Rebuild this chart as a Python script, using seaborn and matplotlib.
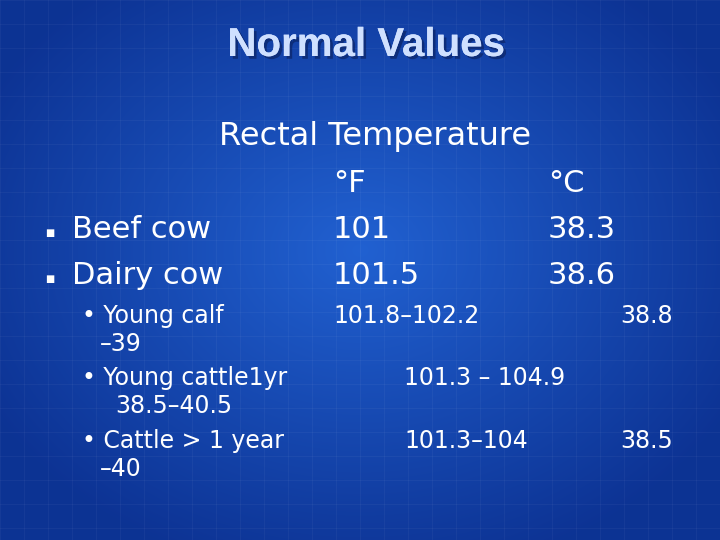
import numpy as np
import matplotlib.pyplot as plt
import matplotlib.patheffects as pe
import seaborn as sns

sns.set_style("white")
plt.rcParams['font.family'] = ['DejaVu Sans']

title = "Normal Values"
header = "Rectal Temperature"
units = ["°F", "°C"]
main_rows = ["Beef cow", "Dairy cow"]
main_f = ["101", "101.5"]
main_c = ["38.3", "38.6"]
sub_rows = [("• Young calf", "–39"), ("• Young cattle1yr", "38.5–40.5"), ("• Cattle > 1 year", "–40")]
sub_f = ["101.8–102.2", "101.3 – 104.9", "101.3–104"]
sub_c = ["38.8", "", "38.5"]

fig = plt.figure(figsize=(7.2, 5.4), dpi=100)
ax = fig.add_axes([0, 0, 1, 1])
ax.set_xlim(0, 720)
ax.set_ylim(540, 0)
ax.axis("off")

# blue background, lighter in the middle
yy, xx = np.mgrid[0:540, 0:720]
r = np.sqrt(((xx - 360) / 420) ** 2 + ((yy - 250) / 330) ** 2)
t = np.clip(r, 0, 1)[..., None]
c0 = np.array([0.13, 0.38, 0.82])
c1 = np.array([0.05, 0.20, 0.58])
img = c0 * (1 - t) + c1 * t
ax.imshow(img, extent=(0, 720, 540, 0), aspect="auto", zorder=0)
for g in range(0, 720, 24):
    ax.axvline(g, color="white", alpha=0.04, lw=0.8)
for g in range(0, 540, 24):
    ax.axhline(g, color="white", alpha=0.04, lw=0.8)

ax.text(366, 45, title, fontsize=29, weight="bold", color="#cfe0ff", ha="center", va="center",
        family="Liberation Sans",
        path_effects=[pe.withSimplePatchShadow(offset=(2, -2), shadow_rgbFace="#0a1f5a", alpha=0.6), pe.Normal()])

w = "white"
ax.text(375, 137, header, fontsize=23, color=w, ha="center", va="center")
ax.text(333, 183, units[0], fontsize=22, color=w, va="center")
ax.text(548, 183, units[1], fontsize=22, color=w, va="center")

ys = [230, 276]
for y, name, f, c in zip(ys, main_rows, main_f, main_c):
    ax.text(50, y + 3, "■", fontsize=7, color=w, ha="center", va="center")
    ax.text(72, y, name, fontsize=22, color=w, va="center")
    ax.text(333, y, f, fontsize=22, color=w, va="center")
    ax.text(548, y, c, fontsize=22, color=w, va="center")

sy = [316, 378, 441]
cont_x = [100, 115, 100]
fx = [333, 404, 404]
for y, (a, b), cx, x2, f, c in zip(sy, sub_rows, cont_x, fx, sub_f, sub_c):
    ax.text(82, y, a, fontsize=17, color=w, va="center")
    ax.text(cx, y + 28, b, fontsize=17, color=w, va="center")
    ax.text(x2, y, f, fontsize=17, color=w, va="center")
    if c:
        ax.text(620, y, c, fontsize=17, color=w, va="center")

fig.savefig("out.png", dpi=100)
